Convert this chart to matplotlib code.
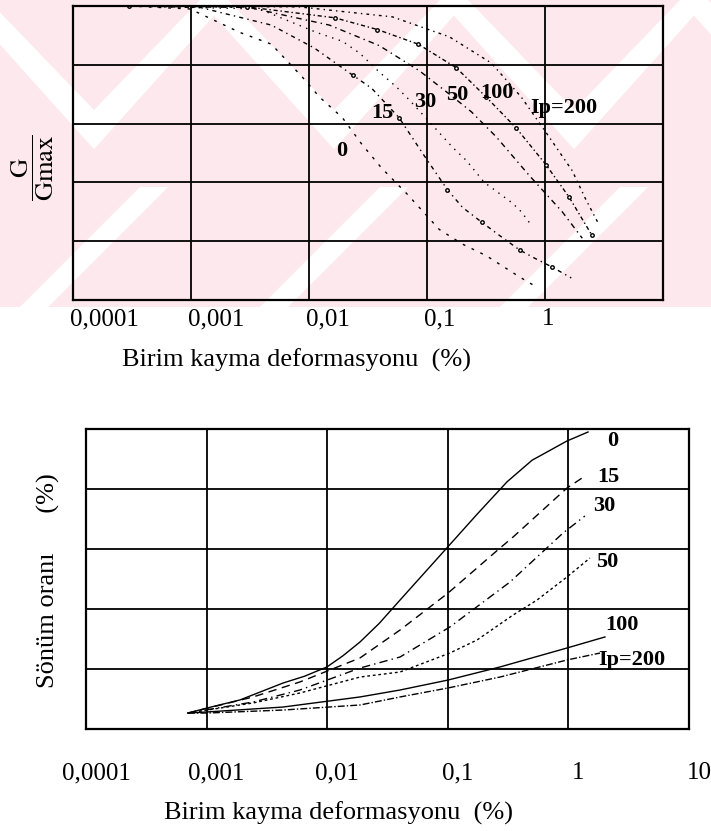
import matplotlib.pyplot as plt
from matplotlib.patches import Polygon, Rectangle
from matplotlib.transforms import ScaledTranslation

plt.rcParams['font.family'] = ['Liberation Serif', 'DejaVu Serif']
plt.rcParams['mathtext.fontset'] = 'stix'

# --- G/Gmax curves (upper chart), strain in %
g0_x = [0.0003, 0.00098, 0.0026, 0.0048, 0.0087, 0.0123, 0.0192, 0.028, 0.041, 0.068, 0.127, 0.20, 0.32, 0.60, 0.84]
g0_y = [1.0, 0.99, 0.91, 0.87, 0.76, 0.69, 0.62, 0.53, 0.45, 0.36, 0.24, 0.19, 0.15, 0.08, 0.045]
g15_x = [0.0003, 0.0012, 0.0048, 0.0111, 0.0234, 0.034, 0.058, 0.095, 0.149, 0.20, 0.29, 0.41, 0.61, 0.81, 1.15, 1.67]
g15_y = [1.0, 0.995, 0.935, 0.857, 0.765, 0.72, 0.62, 0.49, 0.375, 0.315, 0.265, 0.22, 0.17, 0.143, 0.112, 0.075]
g30_x = [0.0003, 0.0038, 0.0116, 0.0192, 0.0268, 0.0395, 0.055, 0.071, 0.111, 0.164, 0.215, 0.306, 0.528, 0.63, 0.78]
g30_y = [1.0, 0.99, 0.91, 0.88, 0.84, 0.775, 0.725, 0.68, 0.595, 0.52, 0.475, 0.40, 0.33, 0.30, 0.25]
g50_x = [0.0003, 0.0031, 0.0149, 0.0395, 0.086, 0.155, 0.238, 0.386, 0.73, 1.4, 2.07]
g50_y = [1.0, 0.995, 0.935, 0.865, 0.78, 0.70, 0.64, 0.555, 0.425, 0.30, 0.21]
g100_x = [0.0003, 0.003, 0.0165, 0.038, 0.0845, 0.177, 0.318, 0.57, 1.02, 1.6, 2.5]
g100_y = [1.0, 0.997, 0.96, 0.92, 0.87, 0.79, 0.69, 0.585, 0.46, 0.35, 0.22]
g200_x = [0.0003, 0.0083, 0.051, 0.155, 0.351, 0.63, 1.02, 1.7, 2.23, 2.88]
g200_y = [1.0, 0.997, 0.963, 0.895, 0.806, 0.69, 0.57, 0.44, 0.34, 0.255]

# --- damping curves (lower chart), damping in %
d0_x = [0.0007, 0.00101, 0.00189, 0.0043, 0.0065, 0.00995, 0.0135, 0.0187, 0.027, 0.0402,
        0.1005, 0.175, 0.31, 0.50, 0.973, 1.455]
d0_y = [1.33, 1.75, 2.42, 3.83, 4.4, 5.17, 6.1, 7.25, 8.8, 10.75,
        15.2, 17.9, 20.6, 22.4, 24.0, 24.75]
d15_x = [0.0007, 0.00243, 0.00594, 0.0187, 0.0402, 0.1005, 0.271, 0.348, 0.973, 1.30]
d15_y = [1.33, 2.67, 3.92, 5.92, 8.25, 11.33, 15.08, 16.0, 20.08, 20.92]
d30_x = [0.0007, 0.00243, 0.00594, 0.0187, 0.0402, 0.104, 0.328, 0.902, 1.37]
d30_y = [1.33, 2.25, 3.25, 5.08, 6.0, 8.5, 12.25, 16.33, 17.75]
d50_x = [0.0007, 0.00243, 0.00594, 0.0187, 0.0402, 0.104, 0.175, 0.348, 0.55, 0.973, 1.51]
d50_y = [1.33, 2.17, 3.0, 4.33, 4.75, 6.33, 7.42, 9.5, 10.75, 12.67, 14.25]
d100_x = [0.0007, 0.00101, 0.0043, 0.0187, 0.0402, 0.1005, 0.271, 0.973, 2.01]
d100_y = [1.33, 1.42, 1.83, 2.67, 3.25, 4.08, 5.17, 6.75, 7.67]
d200_x = [0.0007, 0.00101, 0.0043, 0.0187, 0.0402, 0.1005, 0.271, 0.973, 1.83]
d200_y = [1.33, 1.33, 1.58, 2.0, 2.67, 3.42, 4.33, 5.75, 6.33]

decades = [0.0001, 0.001, 0.01, 0.1, 1, 10]
top_tick_labels = ['0,0001', '0,001', '0,01', '0,1', '1']
bottom_tick_labels = ['0,0001', '0,001', '0,01', '0,1', '1', '10']
xlabel = 'Birim kayma deformasyonu  (%)'

W, H = 711, 831
fig = plt.figure(figsize=(W / 100, H / 100), dpi=100)


def px_box(x0, y0, x1, y1):
    return [x0 / W, 1 - y1 / H, (x1 - x0) / W, (y1 - y0) / H]


# pale pink diagonal watermark behind the upper chart
bg = fig.add_axes([0, 0, 1, 1], zorder=-5)
bg.set_xlim(0, W)
bg.set_ylim(H, 0)
bg.axis('off')
pink = '#fde9ed'
bg.add_patch(Rectangle((0, 0), W, 307, color=pink, lw=0))
band = 28
for cx in [-40, 200, 440, 680]:
    bg.add_patch(Polygon([(cx, 0), (cx + band, 0), (cx + 120 + band / 2, 110),
                          (cx + 240, 0), (cx + 240 + band, 0),
                          (cx + 120 + band / 2, 110 + band * 1.4)],
                         closed=True, color='white', lw=0))
    bg.add_patch(Polygon([(cx + 60, 307), (cx + 60 + band, 307), (cx + 180 + band, 187),
                          (cx + 180, 187)], closed=True, color='white', lw=0))
bg.add_patch(Rectangle((0, 307), W, H - 307, color='white', lw=0))


def style_axes(ax, ymax, yticks):
    ax.set_xscale('log')
    ax.set_xlim(1e-4, 10)
    ax.set_ylim(0, ymax)
    ax.set_yticks(yticks)
    ax.set_yticklabels([])
    ax.set_xticks(decades)
    ax.minorticks_off()
    ax.tick_params(length=0)
    ax.grid(True, color='black', lw=1.3)
    ax.set_facecolor('none')
    for s in ax.spines.values():
        s.set_linewidth(1.6)


def shift_labels(ax, dx_px):
    off = ScaledTranslation(dx_px / 100, 0, fig.dpi_scale_trans)
    for lbl in ax.get_xticklabels():
        lbl.set_transform(lbl.get_transform() + off)


# upper chart: G / Gmax
ax1 = fig.add_axes(px_box(73, 6, 663, 300))
style_axes(ax1, 1.0, [0.2, 0.4, 0.6, 0.8])
ax1.set_xticks(decades[:-1])
ax1.set_xticklabels(top_tick_labels, fontsize=18, ha='left')
ax1.tick_params(axis='x', pad=6)
shift_labels(ax1, -3)

kw = dict(color='black', lw=1.0)
ax1.plot(g0_x, g0_y, ls=(0, (2, 5)), **kw)
ax1.plot(g15_x, g15_y, ls=(0, (3, 3, 1, 3)), marker='o', ms=2.5, mfc='white',
         markevery=[4, 6, 8, 10, 12, 14], **kw)
ax1.plot(g30_x, g30_y, ls=(0, (1, 4)), **kw)
ax1.plot(g50_x, g50_y, ls=(0, (4, 3, 1, 3)), **kw)
ax1.plot(g100_x, g100_y, ls=(0, (3, 2, 1, 2)), marker='o', ms=2.5, mfc='white', **kw)
ax1.plot(g200_x, g200_y, ls=(0, (2, 3, 1, 3)), **kw)

lab = dict(fontsize=16, fontweight='bold', ha='center', va='center')
ax1.text(0.0189, 0.507, '0', **lab)
ax1.text(0.042, 0.636, '15', **lab)
ax1.text(0.0968, 0.673, '30', **lab)
ax1.text(0.181, 0.697, '50', **lab)
ax1.text(0.394, 0.704, '100', **lab)
ax1.text(1.45, 0.653, 'Ip=200', **lab)

fig.text(297 / W, 1 - 360 / H, xlabel, fontsize=19, ha='center', va='center')
fig.text(33 / W, 1 - 168 / H, r'$\dfrac{\mathrm{G}}{\mathrm{Gmax}}$', fontsize=19,
         rotation=90, ha='center', va='center')

# lower chart: damping ratio
ax2 = fig.add_axes(px_box(86, 429, 689, 729))
style_axes(ax2, 25, [5, 10, 15, 20])
ax2.set_xticklabels(bottom_tick_labels, fontsize=18, ha='center')
ax2.tick_params(axis='x', pad=24)
shift_labels(ax2, 10)

ax2.plot(d0_x, d0_y, ls='-', **kw)
ax2.plot(d15_x, d15_y, ls=(0, (6, 4)), **kw)
ax2.plot(d30_x, d30_y, ls=(0, (6, 3, 1, 3)), **kw)
ax2.plot(d50_x, d50_y, ls=(0, (2, 2)), **kw)
ax2.plot(d100_x, d100_y, ls='-', **kw)
ax2.plot(d200_x, d200_y, ls=(0, (5, 1.5, 1, 1.5)), **kw)

ax2.text(2.34, 24.0, '0', **lab)
ax2.text(2.13, 21.0, '15', **lab)
ax2.text(1.97, 18.6, '30', **lab)
ax2.text(2.09, 13.9, '50', **lab)
ax2.text(2.78, 8.67, '100', **lab)
ax2.text(3.37, 5.75, 'Ip=200', **lab)

fig.text(338 / W, 1 - 813 / H, xlabel, fontsize=19, ha='center', va='center')
fig.text(48 / W, 1 - 581 / H, 'Sönüm oranı      (%)', fontsize=19,
         rotation=90, ha='center', va='center')

fig.savefig('out.png', dpi=100)
